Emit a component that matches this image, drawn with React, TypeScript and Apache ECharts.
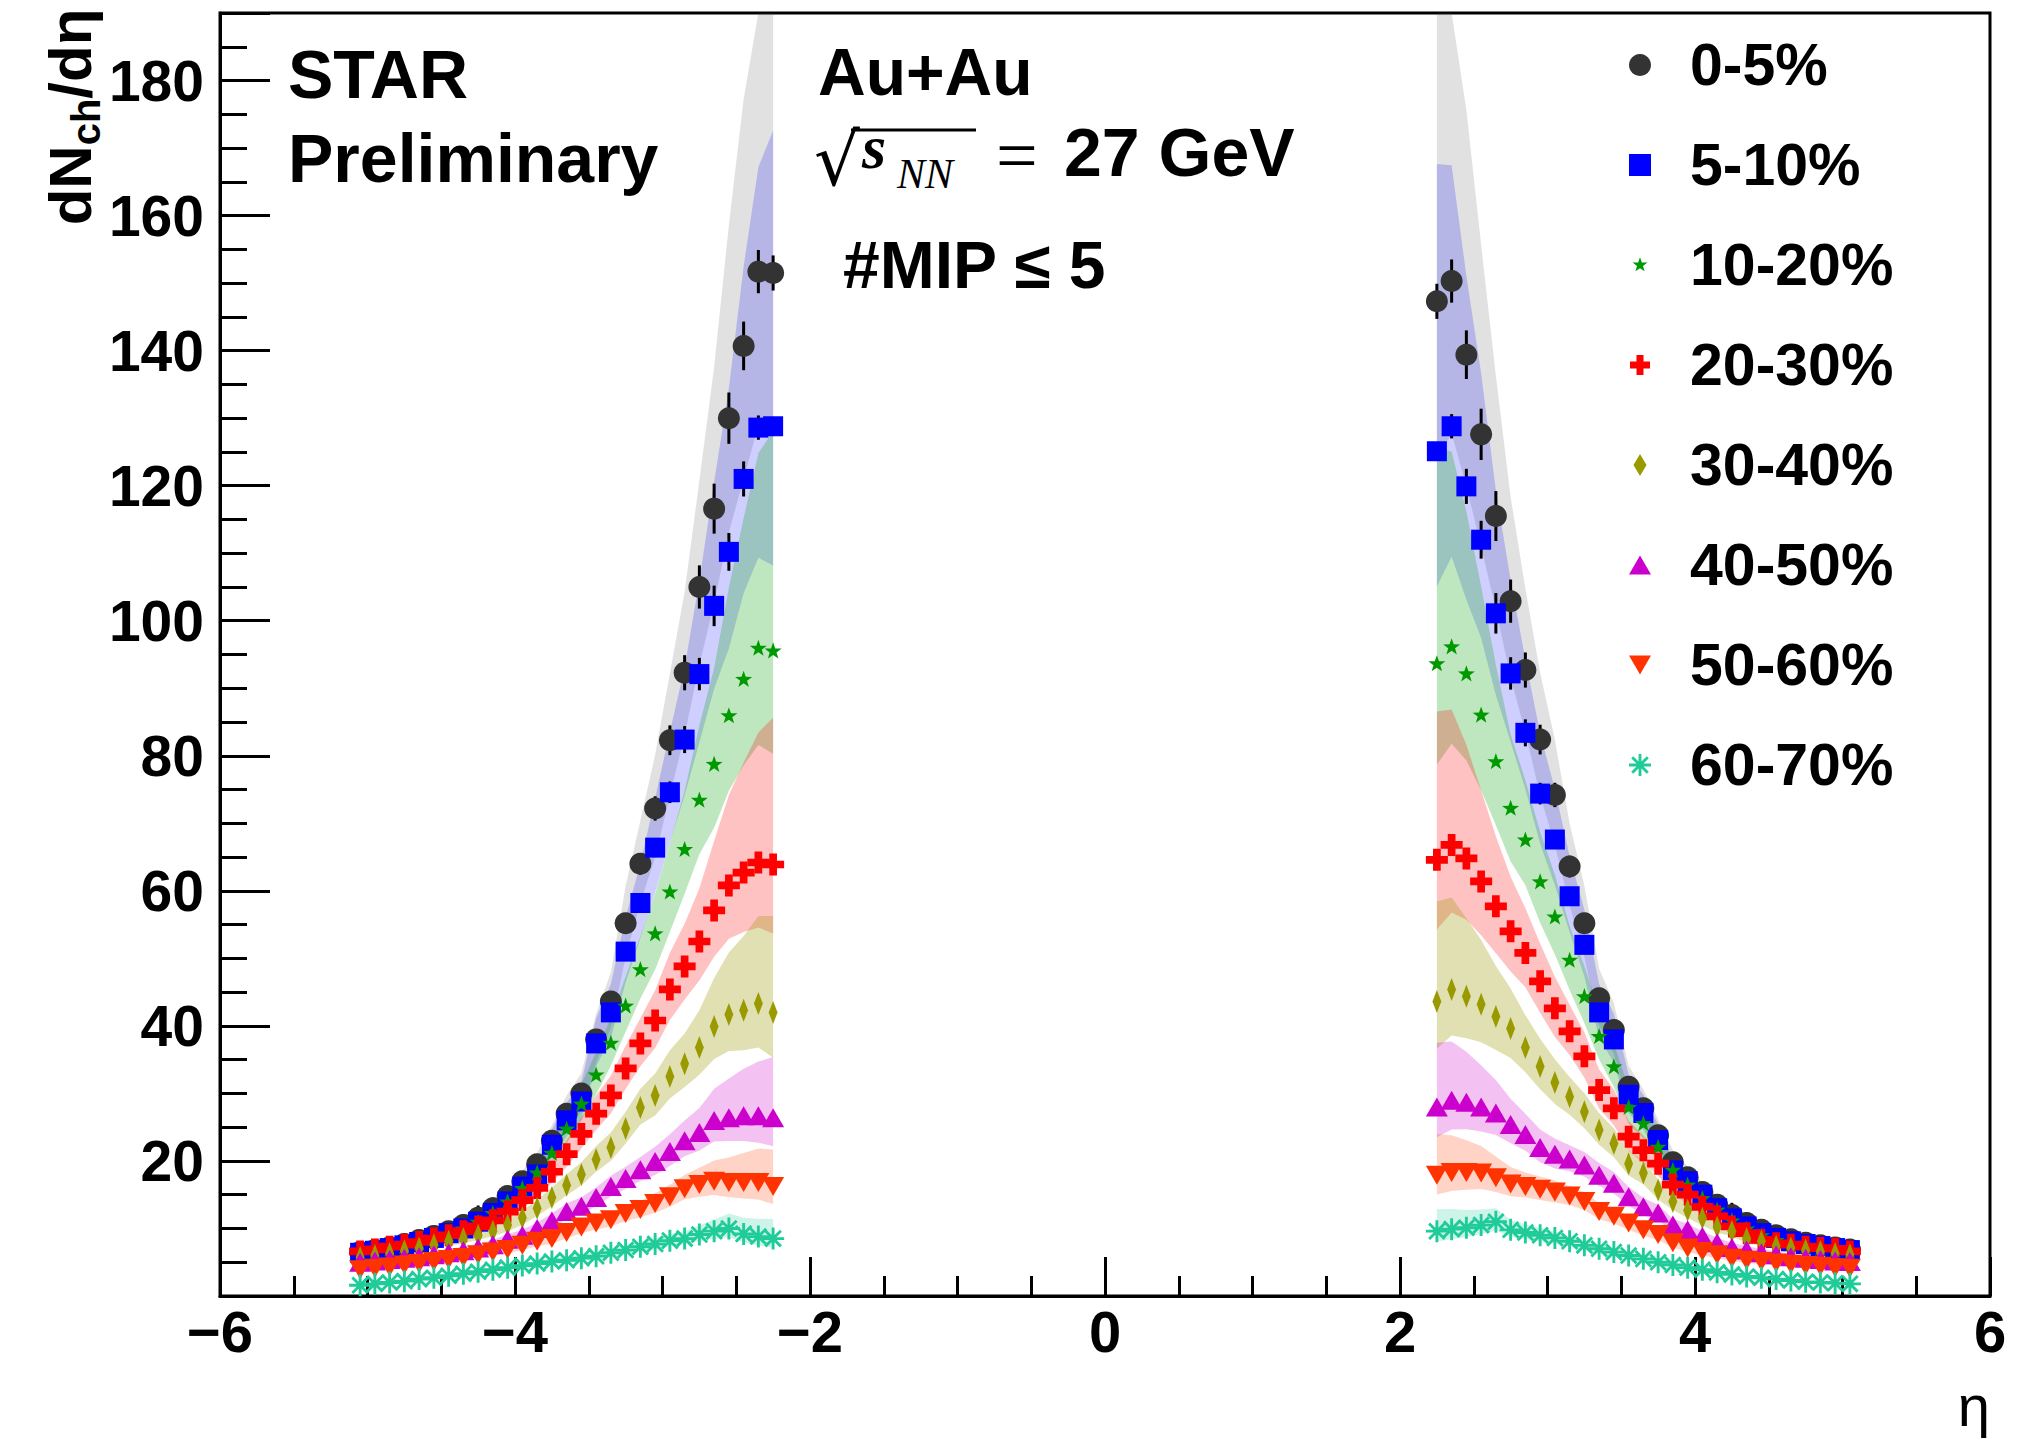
import React, { useEffect, useRef } from 'react';
import * as echarts from 'echarts';

// ---------- data ----------
const etaLeft = [-5.05, -4.95, -4.85, -4.75, -4.65, -4.55, -4.45, -4.35, -4.25, -4.15, -4.05, -3.95, -3.85, -3.75, -3.65, -3.55, -3.45, -3.35, -3.25, -3.15, -3.05, -2.95, -2.85, -2.75, -2.65, -2.55, -2.45, -2.35, -2.25];
const etaRight = [2.25, 2.35, 2.45, 2.55, 2.65, 2.75, 2.85, 2.95, 3.05, 3.15, 3.25, 3.35, 3.45, 3.55, 3.65, 3.75, 3.85, 3.95, 4.05, 4.15, 4.25, 4.35, 4.45, 4.55, 4.65, 4.75, 4.85, 4.95, 5.05];

const cent0to5Left = [6.5, 6.8, 7.2, 7.7, 8.3, 8.9, 9.6, 10.5, 11.6, 13.0, 14.8, 17.0, 19.5, 23.0, 27.0, 30.0, 38.0, 43.6, 55.2, 64.0, 72.2, 82.3, 92.3, 105.0, 116.6, 130.0, 140.7, 151.7, 151.5];
const cent5to10Left = [6.4, 6.7, 7.1, 7.5, 8.0, 8.6, 9.3, 10.0, 11.0, 12.3, 14.0, 16.2, 18.0, 22.4, 26.0, 28.8, 37.4, 42.0, 51.0, 58.2, 66.4, 74.6, 82.4, 92.1, 102.2, 110.2, 121.0, 128.6, 128.8];
const cent10to20Left = [6.2, 6.6, 7.0, 7.4, 7.9, 8.5, 9.2, 10.0, 11.0, 12.3, 14.0, 16.0, 18.3, 21.2, 24.8, 28.5, 32.8, 37.5, 43.0, 48.4, 53.7, 59.9, 66.2, 73.5, 78.8, 86.0, 91.4, 96.0, 95.6];
const cent20to30Left = [6.6, 6.9, 7.3, 7.6, 8.0, 8.5, 9.0, 9.6, 10.3, 11.2, 12.5, 14.2, 16.0, 18.4, 21.0, 24.0, 27.0, 29.7, 33.7, 37.4, 40.8, 45.4, 48.8, 52.5, 57.1, 60.8, 62.7, 64.2, 63.9];
const cent30to40Left = [5.7, 6.0, 6.3, 6.7, 7.1, 7.6, 8.1, 8.5, 9.0, 9.6, 10.5, 11.6, 13.0, 14.6, 16.4, 18.0, 20.2, 22.0, 24.8, 27.9, 29.7, 32.5, 34.4, 36.8, 39.9, 41.7, 42.3, 43.3, 42.0];
const cent40to50Left = [5.0, 5.2, 5.4, 5.6, 5.8, 6.1, 6.4, 6.7, 7.1, 7.6, 8.4, 9.0, 10.0, 11.1, 12.5, 13.3, 14.6, 16.2, 17.4, 18.7, 19.9, 21.4, 23.0, 24.2, 26.0, 26.4, 26.7, 26.7, 26.4];
const cent50to60Left = [3.9, 4.1, 4.3, 4.6, 4.8, 5.1, 5.4, 5.7, 6.1, 6.5, 6.9, 7.5, 8.1, 8.5, 9.4, 10.2, 10.8, 11.3, 12.2, 12.8, 13.7, 14.7, 15.9, 16.5, 17.0, 16.8, 16.8, 16.8, 16.2];
const cent60to70Left = [1.6, 1.8, 2.0, 2.2, 2.5, 2.7, 3.0, 3.3, 3.6, 3.9, 4.2, 4.5, 4.8, 5.1, 5.3, 5.6, 5.9, 6.4, 6.8, 7.3, 7.7, 8.2, 8.5, 9.1, 9.6, 10.0, 9.2, 8.8, 8.5];

const cent0to5Right = [147.3, 150.3, 139.4, 127.6, 115.5, 102.9, 92.7, 82.4, 74.2, 63.6, 55.2, 44.1, 39.4, 31.0, 27.8, 23.8, 19.8, 17.6, 15.4, 13.5, 12.0, 10.8, 9.8, 9.0, 8.4, 7.9, 7.5, 7.2, 6.9];
const cent5to10Right = [125.1, 128.8, 119.9, 112.0, 101.1, 92.2, 83.4, 74.4, 67.6, 59.2, 52.0, 42.0, 38.0, 29.8, 27.1, 23.1, 18.6, 17.0, 15.0, 13.0, 11.5, 10.3, 9.3, 8.6, 8.1, 7.7, 7.4, 7.1, 6.8];
const cent10to20Right = [93.7, 96.2, 92.2, 86.1, 79.2, 72.3, 67.6, 61.4, 56.2, 49.8, 44.4, 38.5, 34.0, 28.0, 25.6, 22.1, 18.7, 16.5, 14.5, 12.8, 11.2, 10.0, 9.0, 8.3, 7.8, 7.4, 7.1, 6.9, 6.6];
const cent20to30Right = [64.6, 66.8, 64.8, 61.4, 57.7, 54.0, 50.8, 46.6, 42.6, 39.2, 35.5, 30.5, 27.8, 23.6, 21.6, 19.6, 16.5, 15.0, 13.2, 11.8, 10.3, 9.3, 8.3, 7.8, 7.6, 7.3, 7.1, 7.0, 6.6];
const cent30to40Right = [43.6, 45.4, 44.4, 43.2, 41.4, 39.6, 36.8, 34.0, 31.6, 29.5, 27.3, 24.6, 22.6, 19.6, 18.2, 15.7, 14.0, 12.7, 11.5, 10.2, 9.6, 8.5, 8.1, 7.4, 7.1, 6.8, 6.6, 6.3, 6.1];
const cent40to50Right = [28.0, 29.0, 28.7, 28.0, 27.1, 25.4, 23.9, 22.0, 21.0, 20.3, 19.4, 17.9, 16.7, 14.7, 13.2, 12.3, 10.5, 9.8, 8.8, 7.9, 7.2, 6.8, 6.4, 6.1, 5.8, 5.6, 5.4, 5.2, 5.1];
const cent50to60Right = [17.9, 18.3, 18.3, 18.2, 17.5, 16.6, 16.2, 15.8, 15.4, 14.8, 14.0, 12.5, 11.8, 10.8, 9.8, 9.1, 7.9, 7.1, 6.6, 6.1, 5.6, 5.3, 5.1, 4.9, 4.7, 4.5, 4.4, 4.2, 4.1];
const cent60to70Right = [9.6, 9.9, 10.1, 10.5, 11.0, 9.8, 9.4, 9.0, 8.6, 8.1, 7.5, 7.0, 6.5, 6.0, 5.5, 5.0, 4.6, 4.2, 3.9, 3.5, 3.2, 2.9, 2.7, 2.5, 2.3, 2.1, 2.0, 1.9, 1.8];

// relative systematic uncertainty (upper / lower), indexed from |eta| = 2.25 outward
const sysUp = [0.34, 0.30, 0.26, 0.22, 0.18, 0.15, 0.13, 0.12, 0.11, 0.10, 0.10, 0.10, 0.10, 0.10, 0.10, 0.10, 0.09, 0.09, 0.09, 0.09, 0.09, 0.09, 0.09, 0.08, 0.08, 0.08, 0.08, 0.08, 0.08];
const sysDown = [0.16, 0.15, 0.14, 0.13, 0.12, 0.11, 0.10, 0.10, 0.10, 0.09, 0.09, 0.09, 0.09, 0.09, 0.09, 0.09, 0.09, 0.09, 0.09, 0.08, 0.08, 0.08, 0.08, 0.08, 0.08, 0.08, 0.08, 0.08, 0.08];

// statistical errors (absolute), indexed from |eta| = 2.25 outward
const statErr0to5 = [2.6, 3.2, 3.6, 3.8, 3.7, 3.2, 2.6, 2.2, 1.8, 1.6, 1.4, 1.2, 1.1, 1.0, 1.0, 1.0, 1.0, 1.0, 1.2, 1.6, 1.8, 1.6, 1.0, 0.8, 0.8, 0.7, 0.7, 0.6, 0.6];
const statErr5to10 = [1.2, 1.8, 2.6, 2.8, 3.0, 2.4, 2.0, 1.6, 1.4, 1.2, 1.0, 0.9, 0.8, 0.8, 0.7, 0.7, 0.6, 0.6, 0.6, 0.6, 0.5, 0.5, 0.5, 0.5, 0.5, 0.5, 0.5, 0.5, 0.5];

const centralities = ['0-5%', '5-10%', '10-20%', '20-30%', '30-40%', '40-50%', '50-60%', '60-70%'];
const leftValues = [cent0to5Left, cent5to10Left, cent10to20Left, cent20to30Left, cent30to40Left, cent40to50Left, cent50to60Left, cent60to70Left];
const rightValues = [cent0to5Right, cent5to10Right, cent10to20Right, cent20to30Right, cent30to40Right, cent40to50Right, cent50to60Right, cent60to70Right];
const statErrors = [statErr0to5, statErr5to10, null, null, null, null, null, null];

const xTickValues = [-6, -4, -2, 0, 2, 4, 6];
const yTickLabels = [20, 40, 60, 80, 100, 120, 140, 160, 180];

// ---------- styles ----------
const Y_MAX = 190;
const markerColors = ['#333333', '#0000ff', '#009a00', '#ff0000', '#999900', '#cc00cc', '#ff3300', '#1fcc99'];
const bandColors = [
  'rgba(80,80,80,0.17)',
  'rgba(0,0,255,0.19)',
  'rgba(0,160,0,0.25)',
  'rgba(255,0,0,0.24)',
  'rgba(153,153,0,0.30)',
  'rgba(204,0,204,0.24)',
  'rgba(255,60,0,0.22)',
  'rgba(31,204,153,0.22)',
];

const STAR = 'M0,-10 L2.351,-3.236 L9.511,-3.09 L3.804,1.236 L5.878,8.09 L0,4 L-5.878,8.09 L-3.804,1.236 L-9.511,-3.09 L-2.351,-3.236 Z';
const CROSS = 'M-3.5,-10 L3.5,-10 L3.5,-3.5 L10,-3.5 L10,3.5 L3.5,3.5 L3.5,10 L-3.5,10 L-3.5,3.5 L-10,3.5 L-10,-3.5 L-3.5,-3.5 Z';
const DIAMOND = 'M0,-11 L6.5,0 L0,11 L-6.5,0 Z';
const TRI_UP = 'M0,-9.5 L11,9.5 L-11,9.5 Z';
const TRI_DOWN = 'M-11,-9.5 L11,-9.5 L0,9.5 Z';
const ASTER =
  'M-1.3,-10 L1.3,-10 L1.3,10 L-1.3,10 Z ' +
  'M-10,-1.3 L10,-1.3 L10,1.3 L-10,1.3 Z ' +
  'M-6.15,-7.99 L7.99,6.15 L6.15,7.99 L-7.99,-6.15 Z ' +
  'M7.99,-6.15 L-6.15,7.99 L-7.99,6.15 L6.15,-7.99 Z';

const dataSymbols = ['circle', 'rect', 'path://' + STAR, 'path://' + CROSS, 'path://' + DIAMOND, 'path://' + TRI_UP, 'path://' + TRI_DOWN, 'path://' + ASTER];
const dataSizes: any[] = [22, 20, 17, 22, [15, 23], 22, 22, 22];
const legendIcons = [
  'circle',
  'rect',
  'path://M-14,-14 M14,14 ' + STAR,
  'path://M-11,-11 M11,11 ' + CROSS,
  'path://' + DIAMOND,
  'path://' + TRI_UP,
  'path://' + TRI_DOWN,
  'path://' + ASTER,
];

const FONT = '"Liberation Sans", Arial, sans-serif';

function buildOption() {
  const series: any[] = [];

  // systematic bands
  centralities.forEach((name, ci) => {
    series.push({
      type: 'custom',
      coordinateSystem: 'cartesian2d',
      silent: true,
      z: 1,
      data: [[etaLeft[0], leftValues[ci][0]], [etaRight[0], rightValues[ci][0]]],
      encode: { x: 0, y: 1 },
      renderItem: (params: any, api: any) => {
        const isLeft = params.dataIndex === 0;
        const xs = isLeft ? etaLeft : etaRight;
        const vals = isLeft ? leftValues[ci] : rightValues[ci];
        const upper: number[][] = [];
        const lower: number[][] = [];
        xs.forEach((x, i) => {
          const k = isLeft ? xs.length - 1 - i : i;
          const hi = Math.min(vals[i] * (1 + sysUp[k]), Y_MAX);
          const lo = vals[i] * (1 - sysDown[k]);
          upper.push(api.coord([x, hi]));
          lower.push(api.coord([x, lo]));
        });
        return {
          type: 'polygon',
          shape: { points: upper.concat(lower.reverse()) },
          style: { fill: bandColors[ci], stroke: null },
        };
      },
    });
  });

  centralities.forEach((name, ci) => {
    const errs = statErrors[ci];
    if (errs) {
      const errData: number[][] = [];
      etaLeft.forEach((x, i) => errData.push([x, leftValues[ci][i], errs[etaLeft.length - 1 - i]]));
      etaRight.forEach((x, i) => errData.push([x, rightValues[ci][i], errs[i]]));
      series.push({
        type: 'custom',
        coordinateSystem: 'cartesian2d',
        silent: true,
        z: 2,
        data: errData,
        encode: { x: 0, y: 1 },
        renderItem: (params: any, api: any) => {
          const x = api.value(0);
          const y = api.value(1);
          const e = api.value(2);
          if (!e) return null;
          const p1 = api.coord([x, y - e]);
          const p2 = api.coord([x, Math.min(y + e, Y_MAX)]);
          return {
            type: 'line',
            shape: { x1: p1[0], y1: p1[1], x2: p2[0], y2: p2[1] },
            style: { stroke: '#000', lineWidth: 3 },
          };
        },
      });
    }
    const pts: number[][] = [];
    etaLeft.forEach((x, i) => pts.push([x, leftValues[ci][i]]));
    etaRight.forEach((x, i) => pts.push([x, rightValues[ci][i]]));
    series.push({
      name,
      type: 'scatter',
      z: 2,
      silent: true,
      symbol: dataSymbols[ci],
      symbolSize: dataSizes[ci],
      symbolKeepAspect: true,
      itemStyle: { color: markerColors[ci], opacity: 1 },
      data: pts,
    });
  });

  const bold = (size: number) => `bold ${size}px ${FONT}`;

  const graphic: any[] = [
    { type: 'text', x: 288, y: 74, style: { text: 'STAR', font: bold(68), fill: '#000', align: 'left', verticalAlign: 'middle' } },
    { type: 'text', x: 288, y: 158, style: { text: 'Preliminary', font: bold(68), fill: '#000', align: 'left', verticalAlign: 'middle' } },
    { type: 'text', x: 818, y: 72, style: { text: 'Au+Au', font: bold(66), fill: '#000', align: 'left', verticalAlign: 'middle' } },
    { type: 'text', x: 814, y: 160, style: { text: '\u221A', font: `72px "DejaVu Serif", serif`, fill: '#000', align: 'left', verticalAlign: 'middle' } },
    { type: 'line', shape: { x1: 851, y1: 130, x2: 976, y2: 130 }, style: { stroke: '#000', lineWidth: 3 } },
    { type: 'text', x: 862, y: 147, style: { text: 's', font: `italic bold 62px "Liberation Serif", serif`, fill: '#000', align: 'left', verticalAlign: 'middle' } },
    { type: 'text', x: 897, y: 174, style: { text: 'NN', font: `italic 42px "Liberation Serif", serif`, fill: '#000', align: 'left', verticalAlign: 'middle' } },
    { type: 'text', x: 996, y: 155, style: { text: '=', font: `74px "Liberation Serif", serif`, fill: '#000', align: 'left', verticalAlign: 'middle' } },
    { type: 'text', x: 1064, y: 152, style: { text: '27 GeV', font: bold(68), fill: '#000', align: 'left', verticalAlign: 'middle' } },
    { type: 'text', x: 843, y: 265, style: { text: '#MIP \u2264 5', font: bold(66), fill: '#000', align: 'left', verticalAlign: 'middle' } },
    {
      type: 'text',
      x: 70,
      y: 117,
      rotation: Math.PI / 2,
      style: {
        text: '{a|dN}{b|ch}{a|/d\u03B7}',
        align: 'center',
        verticalAlign: 'middle',
        rich: {
          a: { fontFamily: FONT, fontWeight: 'bold', fontSize: 60, lineHeight: 72, fill: '#000' },
          b: { fontFamily: FONT, fontWeight: 'bold', fontSize: 40, lineHeight: 28, verticalAlign: 'bottom', fill: '#000' },
        },
      },
    },
    { type: 'text', x: 1990, y: 1405, style: { text: '\u03B7', font: `58px ${FONT}`, fill: '#000', align: 'right', verticalAlign: 'middle' } },
  ];

  return {
    animation: false,
    backgroundColor: '#ffffff',
    grid: { left: 220, right: 35, top: 13, bottom: 157, show: true, borderColor: '#000', borderWidth: 3, backgroundColor: 'transparent' },
    legend: {
      show: true,
      orient: 'vertical',
      left: 1624,
      top: 30,
      itemWidth: 22,
      itemHeight: 22,
      itemGap: 40,
      selectedMode: false,
      textStyle: { fontFamily: FONT, fontWeight: 'bold', fontSize: 59, lineHeight: 60, color: '#000', padding: [0, 0, 0, 34] },
      data: centralities.map((n, i) => ({ name: n, icon: legendIcons[i] })),
    },
    xAxis: {
      type: 'value',
      min: -6,
      max: 6,
      interval: 2,
      splitLine: { show: false },
      axisLine: { show: true, onZero: false, lineStyle: { color: '#000', width: 3 } },
      axisTick: { show: true, inside: true, length: 39, lineStyle: { color: '#000', width: 3 } },
      minorTick: { show: true, splitNumber: 4, length: 20, lineStyle: { color: '#000', width: 3 } },
      axisLabel: {
        show: true,
        margin: 6,
        fontFamily: FONT,
        fontWeight: 'bold',
        fontSize: 58,
        color: '#000',
        showMinLabel: true,
        showMaxLabel: true,
        formatter: (v: number) => (xTickValues.indexOf(v) < 0 ? '' : v < 0 ? '\u2212' + Math.abs(v) : String(v)),
      },
    },
    yAxis: [
      {
        type: 'value',
        min: 0,
        max: Y_MAX,
        interval: 20,
        splitLine: { show: false },
        axisLine: { show: true, onZero: false, lineStyle: { color: '#000', width: 3 } },
        axisTick: { show: true, inside: true, length: 50, lineStyle: { color: '#000', width: 3 } },
        axisLabel: {
          show: true,
          margin: 16,
          fontFamily: FONT,
          fontWeight: 'bold',
          fontSize: 57,
          color: '#000',
          formatter: (v: number) => (yTickLabels.indexOf(v) < 0 ? '' : String(v)),
        },
      },
      {
        type: 'value',
        position: 'left',
        min: 0,
        max: Y_MAX,
        interval: 5,
        splitLine: { show: false },
        axisLine: { show: false, onZero: false },
        axisLabel: { show: false },
        axisTick: { show: true, inside: true, length: 27, lineStyle: { color: '#000', width: 3 } },
      },
    ],
    graphic,
    series,
  };
}

export default function App() {
  const ref = useRef<HTMLDivElement | null>(null);
  useEffect(() => {
    if (!ref.current) return;
    const chart = echarts.init(ref.current, undefined, { renderer: 'svg' });
    chart.setOption(buildOption() as any);
    return () => chart.dispose();
  }, []);
  return (
    <div
      ref={ref}
      style={{ position: 'absolute', left: 0, top: 0, width: '2025px', height: '1453px', background: '#fff' }}
    />
  );
}
